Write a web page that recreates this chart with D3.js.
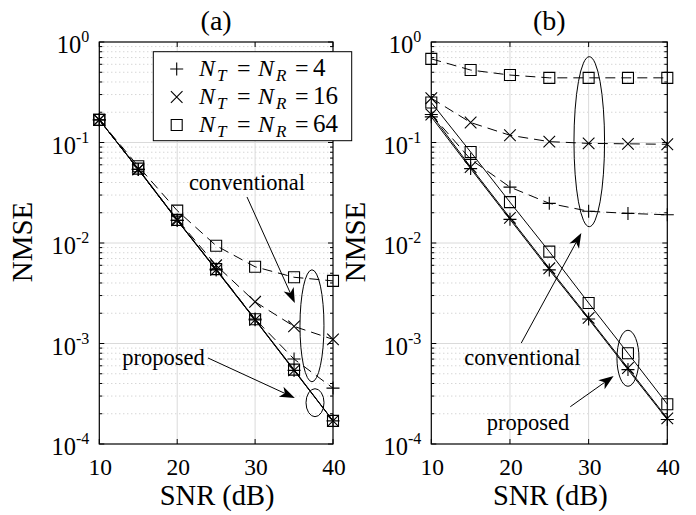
<!DOCTYPE html>
<html><head><meta charset="utf-8">
<script src="https://cdn.jsdelivr.net/npm/d3@7"></script>
<style>
body{margin:0;background:#fff}
svg{display:block}
text{font-family:"Liberation Serif","Times New Roman",serif;fill:#000}
</style>
</head><body>
<svg id="c" width="696" height="515"></svg>
<script>
// ---------------- data ----------------
const snr = [10, 15, 20, 25, 30, 35, 40];
const xTicks = [10, 20, 30, 40];
const yTickExp = [0, -1, -2, -3, -4];
const legendLabels = ["4", "16", "64"];
const markerTypes = ["plus", "cross", "square"];

// panel (a)
const aConv4  = [0.168, 0.054, 0.0168, 0.0055, 0.00175, 0.0007, 0.00036];
const aConv16 = [0.168, 0.054, 0.0172, 0.0060, 0.0026, 0.00148, 0.0011];
const aConv64 = [0.168, 0.058, 0.021, 0.0094, 0.0058, 0.00456, 0.0042];
const aProp4  = [0.168, 0.054, 0.0168, 0.0054, 0.00172, 0.00054, 0.00017];
const aProp16 = [0.168, 0.054, 0.0168, 0.0054, 0.00172, 0.00054, 0.00017];
const aProp64 = [0.168, 0.055, 0.0170, 0.0055, 0.00174, 0.00055, 0.00017];

// panel (b)
const bConv4  = [0.19, 0.068, 0.036, 0.0248, 0.0207, 0.0197, 0.0191];
const bConv16 = [0.276, 0.158, 0.118, 0.102, 0.098, 0.097, 0.096];
const bConv64 = [0.68, 0.526, 0.469, 0.44, 0.44, 0.44, 0.44];
const bProp4  = [0.18, 0.055, 0.0172, 0.0054, 0.00175, 0.00055, 0.000175];
const bProp16 = [0.19, 0.057, 0.0178, 0.0056, 0.0018, 0.00057, 0.00018];
const bProp64 = [0.25, 0.0805, 0.0255, 0.0082, 0.00253, 0.0008, 0.000249];

// ---------------- drawing ----------------
const svg = d3.select("#c");
svg.append("rect").attr("width",696).attr("height",515).attr("fill","#fff");

const yTop = 42, yBot = 444;
const y = d3.scaleLog().domain([1e-4, 1]).range([yBot, yTop]);

function drawMarker(g, type, cx, cy){
  let d;
  if(type==="plus"){ const s=6.5; d=`M${cx-s},${cy}H${cx+s}M${cx},${cy-s}V${cy+s}`; }
  else if(type==="cross"){ const s=5.8; d=`M${cx-s},${cy-s}L${cx+s},${cy+s}M${cx-s},${cy+s}L${cx+s},${cy-s}`; }
  else { const s=5.5; d=`M${cx-s},${cy-s}H${cx+s}V${cy+s}H${cx-s}Z`; }
  g.append("path").attr("d",d).attr("fill","none").attr("stroke","#000").attr("stroke-width",1.1);
}

function arrow(g, x1,y1,x2,y2){
  const dx=x2-x1, dy=y2-y1, L=Math.hypot(dx,dy), ux=dx/L, uy=dy/L, px=-uy, py=ux;
  const hl=15, hw=5.5, notch=4;
  const bx=x2-ux*hl, by=y2-uy*hl;
  g.append("line").attr("x1",x1).attr("y1",y1).attr("x2",bx+ux*notch).attr("y2",by+uy*notch)
    .attr("stroke","#000").attr("stroke-width",1);
  g.append("path").attr("d",`M${x2},${y2}L${bx+px*hw},${by+py*hw}L${bx+ux*notch},${by+uy*notch}L${bx-px*hw},${by-py*hw}Z`)
    .attr("fill","#000");
}

function drawPanel(p){
  const x = d3.scaleLinear().domain([10,40]).range([p.x0, p.x1]);
  const g = svg.append("g");

  // minor grid
  const minors=[];
  for(let e=-4;e<0;e++) for(let m=2;m<=9;m++) minors.push(m*Math.pow(10,e));
  g.selectAll(null).data(minors).enter().append("line")
    .attr("x1",p.x0).attr("x2",p.x1).attr("y1",d=>y(d)).attr("y2",d=>y(d))
    .attr("stroke","#c4c4c4").attr("stroke-width",1).attr("stroke-dasharray","1,3");
  // major grid
  g.selectAll(null).data(yTickExp.slice(1,-1)).enter().append("line")
    .attr("x1",p.x0).attr("x2",p.x1).attr("y1",d=>y(Math.pow(10,d))).attr("y2",d=>y(Math.pow(10,d)))
    .attr("stroke","#dadada").attr("stroke-width",1);
  g.selectAll(null).data(xTicks.slice(1,-1)).enter().append("line")
    .attr("y1",yTop).attr("y2",yBot).attr("x1",d=>x(d)).attr("x2",d=>x(d))
    .attr("stroke","#dadada").attr("stroke-width",1);

  // tick marks (inside, all four sides)
  const tk=g.append("g").attr("stroke","#000").attr("stroke-width",1);
  xTicks.forEach(t=>{
    tk.append("line").attr("x1",x(t)).attr("x2",x(t)).attr("y1",yBot).attr("y2",yBot-5);
    tk.append("line").attr("x1",x(t)).attr("x2",x(t)).attr("y1",yTop).attr("y2",yTop+5);
  });
  yTickExp.forEach(e=>{
    const yy=y(Math.pow(10,e));
    tk.append("line").attr("x1",p.x0).attr("x2",p.x0+5).attr("y1",yy).attr("y2",yy);
    tk.append("line").attr("x1",p.x1).attr("x2",p.x1-5).attr("y1",yy).attr("y2",yy);
  });
  minors.forEach(v=>{
    const yy=y(v);
    tk.append("line").attr("x1",p.x0).attr("x2",p.x0+3).attr("y1",yy).attr("y2",yy);
    tk.append("line").attr("x1",p.x1).attr("x2",p.x1-3).attr("y1",yy).attr("y2",yy);
  });

  // box
  g.append("rect").attr("x",p.x0).attr("y",yTop).attr("width",p.x1-p.x0).attr("height",yBot-yTop)
    .attr("fill","none").attr("stroke","#000").attr("stroke-width",1.2);

  // tick labels
  g.selectAll(null).data(xTicks).enter().append("text")
    .attr("x",d=>x(d)+1).attr("y",yBot+31).attr("text-anchor","middle").attr("font-size",23.5).text(d=>d);
  yTickExp.forEach(e=>{
    const t=g.append("text").attr("x",p.x0-10).attr("y",y(Math.pow(10,e))+11).attr("text-anchor","end").attr("font-size",24.5);
    t.append("tspan").text("10");
    t.append("tspan").attr("dy",-11).attr("font-size",16).text(e===0?"0":"-"+(-e));
  });

  // axis labels & title
  g.append("text").attr("x",(p.x0+p.x1)/2+1).attr("y",505).attr("text-anchor","middle").attr("font-size",28.5).text("SNR (dB)");
  g.append("text").attr("transform",`translate(${p.ylabX},242) rotate(-90)`).attr("text-anchor","middle").attr("font-size",29).text("NMSE");
  g.append("text").attr("x",(p.x0+p.x1)/2).attr("y",30).attr("text-anchor","middle").attr("font-size",28).text(p.title);

  // series
  const line = d3.line().x((d,i)=>x(snr[i])).y(d=>y(d));
  p.conv.forEach((s,k)=>{
    g.append("path").attr("d",line(s)).attr("fill","none").attr("stroke","#000").attr("stroke-width",1).attr("stroke-dasharray","10,6");
  });
  p.prop.forEach((s,k)=>{
    g.append("path").attr("d",line(s)).attr("fill","none").attr("stroke","#000").attr("stroke-width",1);
  });
  p.conv.forEach((s,k)=> s.forEach((v,i)=>drawMarker(g, markerTypes[k], x(snr[i]), y(v))));
  p.prop.forEach((s,k)=> s.forEach((v,i)=>drawMarker(g, markerTypes[k], x(snr[i]), y(v))));

  // annotations (data coords: snr, log10 value)
  const X=v=>x(v), Y=v=>y(Math.pow(10,v));
  const an=g.append("g");
  p.ellipses.forEach(e=>an.append("ellipse").attr("cx",X(e[0])).attr("cy",Y(e[1])).attr("rx",e[2]).attr("ry",e[3])
    .attr("fill","none").attr("stroke","#000").attr("stroke-width",1));
  p.texts.forEach(t=>an.append("text").attr("x",X(t[0])).attr("y",Y(t[1])).attr("text-anchor","middle").attr("font-size",22.5).text(t[2]));
  p.arrows.forEach(a=>arrow(an, X(a[0]),Y(a[1]),X(a[2]),Y(a[3])));
  return {g,x};
}

drawPanel({
  title:"(a)", x0:99.3, x1:333, ylabX:32,
  conv:[aConv4,aConv16,aConv64], prop:[aProp4,aProp16,aProp64],
  ellipses:[[37.3,-2.824,12,56],[37.69,-3.589,9,14]],
  texts:[[28.96,-1.473,"conventional"],[18.24,-3.214,"proposed"]],
  arrows:[[28.96,-1.542,35.1,-2.597],[23.95,-3.144,35.1,-3.542]]
});
drawPanel({
  title:"(b)", x0:431.3, x1:667.3, ylabX:365,
  conv:[bConv4,bConv16,bConv64], prop:[bProp4,bProp16,bProp64],
  ellipses:[[30.08,-0.992,15.3,85],[35.0,-3.147,11,28]],
  texts:[[21.59,-3.214,"conventional"],[22.29,-3.861,"proposed"]],
  arrows:[[21.44,-2.995,29.07,-1.9],[27.67,-3.629,33.18,-3.323]]
});

// legend (in panel a)
const lg = svg.append("g");
lg.append("rect").attr("x",153.3).attr("y",51.7).attr("width",198.4).attr("height",89)
  .attr("fill","#fff").attr("stroke","#000").attr("stroke-width",1);
legendLabels.forEach((lab,i)=>{
  const cy = 69 + i*28;
  drawMarker(lg, markerTypes[i], 176.7, cy);
  const by = cy + 7;
  const t = lg.append("g").attr("font-size",24);
  t.append("text").attr("x",199).attr("y",by).attr("font-style","italic").text("N");
  t.append("text").attr("x",217).attr("y",by+5).attr("font-style","italic").attr("font-size",17).text("T");
  t.append("text").attr("x",237).attr("y",by).attr("font-size",24).attr("textLength",15).text("=");
  t.append("text").attr("x",258).attr("y",by).attr("font-style","italic").text("N");
  t.append("text").attr("x",276).attr("y",by+5).attr("font-style","italic").attr("font-size",17).text("R");
  t.append("text").attr("x",295).attr("y",by).attr("font-size",24).attr("textLength",15).text("=");
  t.append("text").attr("x",313).attr("y",by).attr("font-size",25).text(lab);
});
</script>
</body></html>
